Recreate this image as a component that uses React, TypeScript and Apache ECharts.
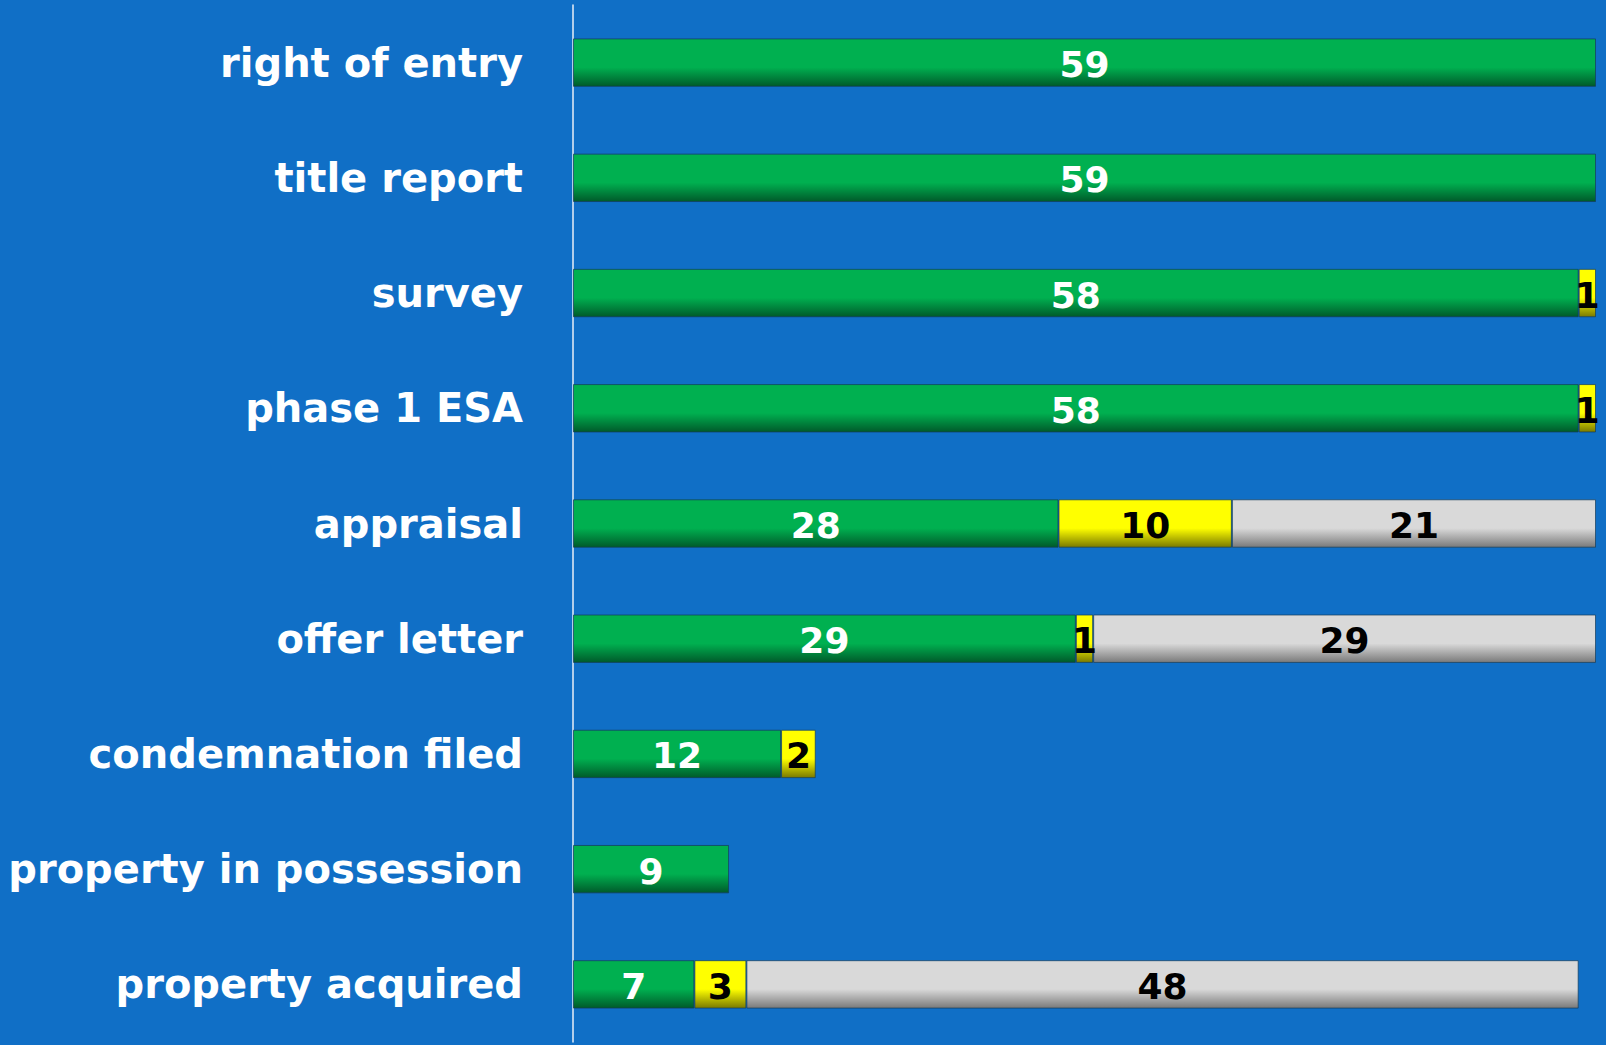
import React, { useEffect, useRef } from "react";
import * as echarts from "echarts";

const categories = [
  "right of entry",
  "title report",
  "survey",
  "phase 1 ESA",
  "appraisal",
  "offer letter",
  "condemnation filed",
  "property in possession",
  "property acquired",
];
const greenValues = [59, 59, 58, 58, 28, 29, 12, 9, 7];
const yellowValues = [0, 0, 1, 1, 10, 1, 2, 0, 3];
const grayValues = [0, 0, 0, 0, 21, 29, 0, 0, 48];

const grad = (base: string, dark: string) =>
  new echarts.graphic.LinearGradient(0, 0, 0, 1, [
    { offset: 0, color: base },
    { offset: 0.6, color: base },
    { offset: 1, color: dark },
  ]);

export default function App() {
  const ref = useRef<HTMLDivElement>(null);
  useEffect(() => {
    if (!ref.current) return;
    const chart = echarts.init(ref.current, null, { renderer: "svg" });
    const mk = (name: string, data: number[], base: string, dark: string, labelColor: string) => ({
      name,
      type: "bar",
      stack: "total",
      data: data.map((v) => (v === 0 ? null : v)),
      barCategoryGap: "58%",
      itemStyle: {
        color: grad(base, dark),
        borderColor: "rgba(20,60,90,0.7)",
        borderWidth: 1,
      },
      label: {
        show: true,
        position: "inside",
        color: labelColor,
        fontFamily: "DejaVu Sans",
        fontWeight: "bold",
        fontSize: 36,
        offset: [0, 2],
        formatter: (p: any) => (p.value ? String(p.value) : ""),
      },
    });
    chart.setOption({
      animation: false,
      backgroundColor: "#106FC6",
      grid: { left: 573, right: 10, top: 5, bottom: 3, containLabel: false },
      xAxis: {
        type: "value",
        min: 0,
        max: 59,
        show: false,
        splitLine: { show: false },
      },
      yAxis: {
        type: "category",
        inverse: true,
        data: categories,
        axisLine: { show: true, lineStyle: { color: "#E8EEF6", width: 1.5 } },
        axisTick: { show: false },
        axisLabel: {
          color: "#FFFFFF",
          fontFamily: "DejaVu Sans",
          fontWeight: "bold",
          fontSize: 40,
          margin: 50,
        },
      },
      series: [
        mk("green", greenValues, "#00B050", "#005A2A", "#FFFFFF"),
        mk("yellow", yellowValues, "#FFFF00", "#7A7A00", "#000000"),
        mk("gray", grayValues, "#D9D9D9", "#7A7A7A", "#000000"),
      ],
    });
    return () => chart.dispose();
  }, []);
  return (
    <div
      ref={ref}
      style={{ position: "fixed", left: 0, top: 0, width: 1606, height: 1045 }}
    />
  );
}
